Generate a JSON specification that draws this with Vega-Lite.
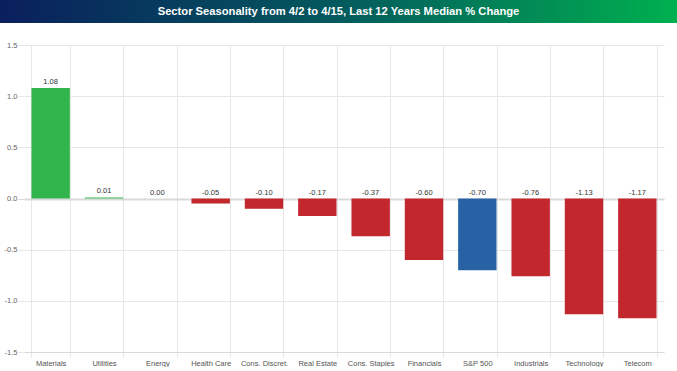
{
  "$schema": "https://vega.github.io/schema/vega-lite/v6.json",
  "padding": 0,
  "spacing": 18,
  "background": "white",
  "config": {
    "view": {"stroke": null},
    "font": "Liberation Sans",
    "locale": {"number": {"decimal": ".", "thousands": ",", "grouping": [3], "currency": ["$", ""], "minus": "-"}}
  },
  "vconcat": [
    {
      "width": 653,
      "height": 23,
      "data": {"values": [{"t": "Sector Seasonality from 4/2 to 4/15, Last 12 Years Median % Change", "a": 0, "b": 1}]},
      "layer": [
        {
          "mark": {
            "type": "rect",
            "xOffset": -24,
            "color": {
              "gradient": "linear", "x1": 0, "x2": 1, "y1": 0, "y2": 0,
              "stops": [
                {"offset": 0, "color": "#0a1f5d"},
                {"offset": 0.5, "color": "#035a5e"},
                {"offset": 1, "color": "#00b04f"}
              ]
            }
          },
          "encoding": {
            "x": {"field": "a", "type": "quantitative", "scale": {"domain": [0, 1], "nice": false, "zero": false}, "axis": null},
            "x2": {"field": "b"}
          }
        },
        {
          "mark": {"type": "text", "color": "white", "fontWeight": "bold", "fontSize": 11.2, "font": "Liberation Sans", "dx": -12},
          "encoding": {"text": {"field": "t"}}
        }
      ]
    },
    {
      "width": 640,
      "height": 307,
      "data": {
        "values": [
          {"sector": "Materials", "value": 1.08, "group": "up"},
          {"sector": "Utilities", "value": 0.01, "group": "up"},
          {"sector": "Energy", "value": 0.0, "group": "up"},
          {"sector": "Health Care", "value": -0.05, "group": "down"},
          {"sector": "Cons. Discret.", "value": -0.10, "group": "down"},
          {"sector": "Real Estate", "value": -0.17, "group": "down"},
          {"sector": "Cons. Staples", "value": -0.37, "group": "down"},
          {"sector": "Financials", "value": -0.60, "group": "down"},
          {"sector": "S&P 500", "value": -0.70, "group": "index"},
          {"sector": "Industrials", "value": -0.76, "group": "down"},
          {"sector": "Technology", "value": -1.13, "group": "down"},
          {"sector": "Telecom", "value": -1.17, "group": "down"}
        ]
      },
      "encoding": {
        "x": {
          "field": "sector",
          "type": "nominal",
          "sort": null,
          "title": null,
          "scale": {"paddingInner": 0.28, "paddingOuter": 0.14},
          "axis": {
            "tickBand": "extent",
            "labelAngle": 0,
            "labelFontSize": 7.5,
            "labelColor": "#555555",
            "labelPadding": 2,
            "grid": true,
            "gridColor": "#e6e6e6",
            "tickColor": "#e6e6e6",
            "tickSize": 5,
            "domainColor": "#d6d9e0",
            "domainWidth": 1
          }
        }
      },
      "layer": [
        {
          "mark": {"type": "bar"},
          "encoding": {
            "y": {
              "field": "value",
              "type": "quantitative",
              "title": " ",
              "scale": {"domain": [-1.5, 1.5], "nice": false, "zero": false},
              "axis": {
                "values": [-1.5, -1, -0.5, 0, 0.5, 1, 1.5],
                "format": ".1f",
                "domain": false,
                "grid": true,
                "gridColor": {"condition": {"test": "datum.value === 0", "value": "#d9d9d9"}, "value": "#e6e6e6"},
                "gridWidth": {"condition": {"test": "datum.value === 0", "value": 2}, "value": 1},
                "tickColor": {"condition": {"test": "datum.value === 0", "value": "#d9d9d9"}, "value": "#e6e6e6"},
                "tickSize": 6,
                "labelPadding": 1,
                "labelFontSize": 7.5,
                "labelColor": "#666666",
                "titleFontSize": 3,
                "titlePadding": 1
              }
            },
            "color": {
              "field": "group",
              "type": "nominal",
              "legend": null,
              "scale": {"domain": ["up", "down", "index"], "range": ["#30b44b", "#c1272d", "#2862a5"]}
            }
          }
        },
        {
          "transform": [{"filter": "datum.value > 0"}],
          "mark": {"type": "text", "fontSize": 7.5, "color": "#333333", "baseline": "alphabetic", "dy": -4},
          "encoding": {
            "y": {"field": "value", "type": "quantitative", "title": " "},
            "text": {"field": "value", "type": "quantitative", "format": ".2f"}
          }
        },
        {
          "transform": [{"filter": "datum.value <= 0"}],
          "mark": {"type": "text", "fontSize": 7.5, "color": "#333333", "baseline": "alphabetic", "dy": -4},
          "encoding": {
            "y": {"datum": 0, "type": "quantitative", "title": " "},
            "text": {"field": "value", "type": "quantitative", "format": ".2f"}
          }
        }
      ]
    }
  ]
}
